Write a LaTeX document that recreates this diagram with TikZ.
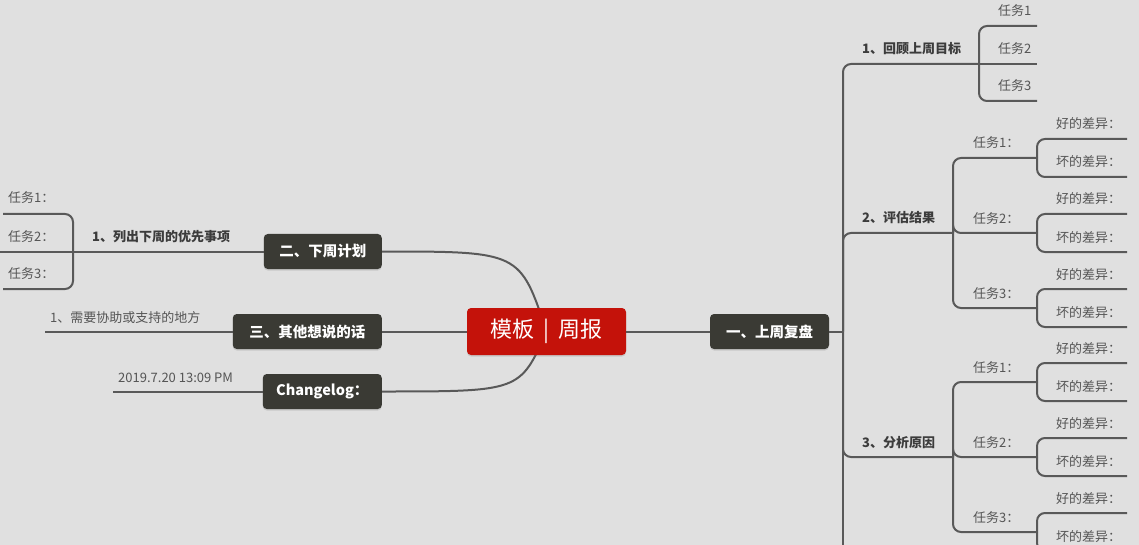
\documentclass[tikz,border=0pt]{standalone}
\usepackage{fontspec}
\setmainfont{Noto Sans CJK SC}
\usetikzlibrary{shadows}
\definecolor{canvasgray}{HTML}{E0E0E0}
\definecolor{linegray}{HTML}{595959}
\definecolor{topicdark}{HTML}{3A3A34}
\definecolor{centralred}{HTML}{C4120A}
\definecolor{labeldark}{HTML}{3C3C3C}
\definecolor{leafgray}{HTML}{555555}
\pgfdeclarelayer{back}
\pgfsetlayers{back,main}

\begin{document}
\begin{tikzpicture}[
        x=1pt,
        y=-1pt,
        link/.style={draw=linegray,line width=2pt},
        fork/.style={link,rounded corners=8pt},
        topic box/.style={
            rectangle,rounded corners=4pt,fill=topicdark,text=white,
            font=\fontsize{14.5}{16}\selectfont\bfseries,
            minimum height=35pt,inner sep=0pt,
            drop shadow={shadow xshift=0pt,shadow yshift=-1.5pt,opacity=0.25}
        },
        central topic/.style={
            topic box,fill=centralred,minimum width=159pt,minimum height=47pt,
            font=\fontsize{22}{24}\selectfont
        },
        branch label/.style={
            anchor=base west,inner sep=0pt,text=labeldark,
            font=\fontsize{13}{15}\selectfont\bfseries
        },
        leaf label/.style={
            anchor=base west,inner sep=0pt,text=leafgray,
            font=\fontsize{13}{15}\selectfont
        }
    ]
        \useasboundingbox (0,0) rectangle (1139,545);

        % The central topic and the four main topics.
        \node[central topic] (central) at (546.5,331.5)
            {模板\hspace{0.4em}|\hspace{0.4em}周报};
        \node[topic box,minimum width=119pt] (review) at (769.5,331.5) {一、上周复盘};
        \node[topic box,minimum width=118pt,anchor=east] (plan) at (382,251.5) {二、下周计划};
        \node[topic box,minimum width=149pt,anchor=east] (extra) at (382,331.5) {三、其他想说的话};
        \node[topic box,minimum width=119pt,anchor=east] (changelog) at (382,391.5) {Changelog：};

        \draw[link] (central.east) -- (review.west);
        \draw[link] (central.west) -- (extra.east);

        % Review: the trunk and the goal sub-branch.
        \coordinate (trunk) at (843,331.5);
        \coordinate (trunkend) at (843,545);
        \draw[link] (review.east) -- (trunk);
        \draw[link] (trunk) -- (trunkend);

        \coordinate (goalfork) at (979,64);
        \coordinate (goal1) at (1037,26);
        \coordinate (goal2) at (1037,64);
        \coordinate (goal3) at (1037,101);
        \draw[fork] (trunk) |- (goalfork);
        \draw[fork] (goalfork) |- (goal1);
        \draw[link] (goalfork) -- (goal2);
        \draw[fork] (goalfork) |- (goal3);
        \node[branch label] (goallabel) at (862,53.5) {1、回顾上周目标};
        \node[leaf label] (goal1label) at (998,16) {任务1};
        \node[leaf label] (goal2label) at (998,53.5) {任务2};
        \node[leaf label] (goal3label) at (998,91) {任务3};

        % Evaluation and causes: three tasks, each with a good and a bad difference.
        \node[branch label] (evallabel) at (862,222.5) {2、评估结果};
        \node[branch label] (causelabel) at (862,447.5) {3、分析原因};
        \foreach \b/\y in {eval/233,cause/457} {
            \coordinate (\b fork) at (953,\y);
            \draw[fork] (trunk) |- (\b fork);
            \foreach \t/\dy in {1/-75,2/0,3/75} {
                \coordinate (\b\t) at (1037,\y+\dy);
                \coordinate (\b\t good) at (1127,\y+\dy-19);
                \coordinate (\b\t bad) at (1127,\y+\dy+19);
                \draw[fork] (\b fork) |- (\b\t);
                \draw[fork] (\b\t) |- (\b\t good);
                \draw[fork] (\b\t) |- (\b\t bad);
                \node[leaf label] at (973,\y+\dy-10) {任务\t：};
                \node[leaf label] at (1056,\y+\dy-29) {好的差异：};
                \node[leaf label] at (1056,\y+\dy+9) {坏的差异：};
            }
        }

        % Next week's plan.
        \coordinate (planfork) at (73,251.5);
        \coordinate (plan1) at (3,214);
        \coordinate (plan2) at (0,251.5);
        \coordinate (plan3) at (3,289);
        \draw[link] (plan.west) -- (planfork);
        \draw[fork] (planfork) |- (plan1);
        \draw[link] (planfork) -- (plan2);
        \draw[fork] (planfork) |- (plan3);
        \node[branch label] (planlabel) at (92,241.5) {1、列出下周的优先事项};
        \node[leaf label] (plan1label) at (8,203) {任务1：};
        \node[leaf label] (plan2label) at (8,241) {任务2：};
        \node[leaf label] (plan3label) at (8,278) {任务3：};

        % Other words and the changelog.
        \coordinate (extraend) at (45,331.5);
        \draw[link] (extra.west) -- (extraend);
        \node[leaf label] (extralabel) at (50,322) {1、需要协助或支持的地方};
        \coordinate (logend) at (113,391.5);
        \draw[link] (changelog.west) -- (logend);
        \node[leaf label] (loglabel) at (118,382) {2019.7.20 13:09 PM};

        % Canvas and the curved links, behind the topics.
        \begin{pgfonlayer}{back}
            \fill[canvasgray] (0,0) rectangle (1139,545);
            \draw[link] (central.center) .. controls (520,251.5) .. (plan.east);
            \draw[link] (central.center) .. controls (520,391.5) .. (changelog.east);
        \end{pgfonlayer}
    \end{tikzpicture}
\end{document}
